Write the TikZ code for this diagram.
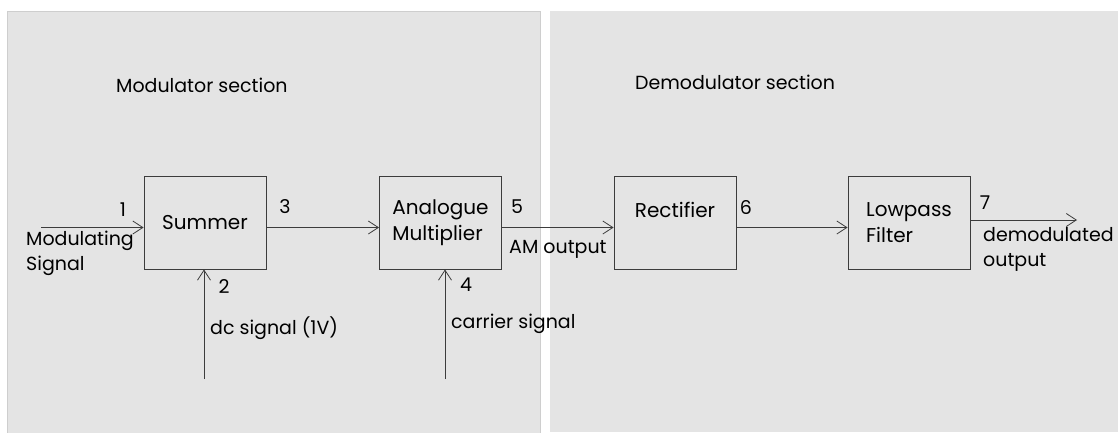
\documentclass[tikz,border=0pt]{standalone}
\usepackage{fontspec}
\setmainfont{Poppins}
\usetikzlibrary{arrows.meta}
\definecolor{panelfill}{RGB}{228,228,228}
\definecolor{paneledge}{RGB}{206,206,206}
\definecolor{wire}{RGB}{60,60,60}
\tikzset{
  panel/.style={fill=panelfill},
  blockbox/.style={draw=wire, line width=0.9pt, minimum width=122pt, minimum height=93pt,
    inner sep=0pt, align=left, font=\fontsize{20}{26}\selectfont},
  lbl/.style={inner sep=0pt, font=\fontsize{19}{25}\selectfont, text=black},
  title/.style={inner sep=0pt, font=\fontsize{19}{24}\selectfont, anchor=west},
  sig/.style={draw=wire, line width=0.8pt, -{Straight Barb[length=10pt,width=13pt,line width=0.8pt]}},
}
\begin{document}
\begin{tikzpicture}[x=1pt,y=-1pt]
\useasboundingbox (0,0) rectangle (1118,432);
% the two shaded sections
\fill[panel] (550,11) rectangle (1118,432);
\filldraw[panel, draw=paneledge, line width=0.8pt] (540.5,432.5) -- (540.5,11.5) -- (7.5,11.5) -- (7.5,432.5);

\node[title] (modt) at (116,85) {Modulator section};
\node[title] (demt) at (635,82) {Demodulator section};

% blocks
\node[blockbox] (sum)  at (205,222.5) {Summer};
\node[blockbox] (mult) at (440.5,222.5) {Analogue\\Multiplier};
\node[blockbox] (rect) at (675,222.5) {Rectifier\\\mbox{}};
\node[blockbox] (lpf)  at (909,222.5) {Lowpass\\Filter};

% free ends of the signal lines
\coordinate (insrc) at (41,227.5);
\coordinate (dcsrc) at (204,379);
\coordinate (carsrc) at (445,379);
\coordinate (outend) at (1077,220);

\draw[sig] (insrc) -- (insrc -| sum.west);
\draw[sig] (sum.east |- 0,227.5) -- (mult.west |- 0,227.5);
\draw[sig] (mult.east |- 0,227.5) -- (rect.west |- 0,227.5);
\draw[sig] (rect.east |- 0,227.5) -- (lpf.west |- 0,227.5);
\draw[sig] (lpf.east |- outend) -- (outend);
\draw[sig] (dcsrc) -- (dcsrc |- sum.south);
\draw[sig] (carsrc) -- (carsrc |- mult.south);

% numbered signal points and their names
\node[lbl] (n1) at (123,210) {1};
\node[lbl] (n2) at (224,286) {2};
\node[lbl] (n3) at (285,207) {3};
\node[lbl] (n4) at (466,285) {4};
\node[lbl] (n5) at (517,207) {5};
\node[lbl] (n6) at (746,208) {6};
\node[lbl] (n7) at (985,203) {7};

\node[lbl, anchor=west, align=left] (modsig) at (26,253) {Modulating\\Signal};
\node[lbl, anchor=west] (dcs) at (210,328) {dc signal (1V)};
\node[lbl, anchor=west] (cars) at (451,324) {carrier signal};
\node[lbl, anchor=west] (amo) at (509,249) {AM output};
\node[lbl, anchor=west, align=left] (demo) at (983,249) {demodulated\\output};
\end{tikzpicture}
\end{document}
